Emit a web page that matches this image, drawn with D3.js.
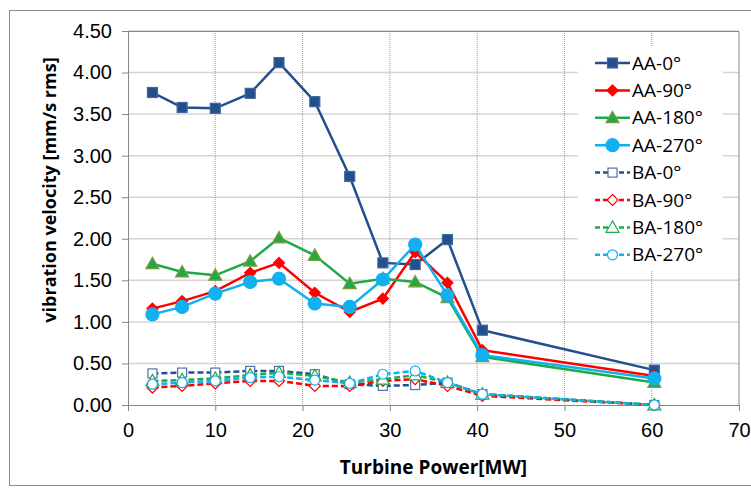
<!DOCTYPE html>
<html lang="en">
<head>
<meta charset="utf-8">
<title>Vibration velocity vs turbine power</title>
<script src="https://cdnjs.cloudflare.com/ajax/libs/d3/7.8.5/d3.min.js"></script>
<style>
    body { margin: 0; background: #fff; }
    svg { font-family: "Open Sans", "Liberation Sans", sans-serif; }
    .axis path, .axis line { stroke: #868686; }
    .axis text { font-size: 20px; fill: #000; }
</style>
</head>
<body>
<script>
// turbine power [MW]
var power = [2.8, 6.2, 10, 14, 17.3, 21.4, 25.4, 29.2, 32.9, 36.6, 40.6, 60.3];

// vibration velocity [mm/s rms]
var aa0   = [3.76, 3.58, 3.57, 3.75, 4.12, 3.65, 2.75, 1.71, 1.69, 1.99, 0.90, 0.42];
var aa90  = [1.16, 1.25, 1.37, 1.59, 1.71, 1.35, 1.12, 1.28, 1.84, 1.47, 0.66, 0.35];
var aa180 = [1.70, 1.60, 1.56, 1.73, 2.01, 1.80, 1.46, 1.52, 1.48, 1.29, 0.58, 0.27];
var aa270 = [1.09, 1.18, 1.34, 1.48, 1.52, 1.22, 1.18, 1.51, 1.93, 1.32, 0.60, 0.32];
var ba0   = [0.38, 0.39, 0.39, 0.41, 0.41, 0.37, 0.25, 0.23, 0.24, 0.27, 0.13, 0.00];
var ba90  = [0.21, 0.23, 0.26, 0.29, 0.29, 0.23, 0.23, 0.29, 0.31, 0.23, 0.11, 0.00];
var ba180 = [0.29, 0.30, 0.32, 0.36, 0.39, 0.35, 0.27, 0.31, 0.36, 0.27, 0.13, 0.00];
var ba270 = [0.25, 0.27, 0.29, 0.33, 0.34, 0.30, 0.26, 0.37, 0.41, 0.27, 0.13, 0.00];

var seriesNames = ["AA-0°", "AA-90°", "AA-180°", "AA-270°", "BA-0°", "BA-90°", "BA-180°", "BA-270°"];
var xTicks = [0, 10, 20, 30, 40, 50, 60, 70];
var yTicks = [0, 0.5, 1, 1.5, 2, 2.5, 3, 3.5, 4, 4.5];

var series = [
    {name: seriesNames[0], values: aa0,   color: "#244f8b", shape: "square",   hollow: false},
    {name: seriesNames[1], values: aa90,  color: "#ff0000", shape: "diamond",  hollow: false},
    {name: seriesNames[2], values: aa180, color: "#1faa4a", shape: "triangle", hollow: false},
    {name: seriesNames[3], values: aa270, color: "#11b0ee", shape: "circle",   hollow: false},
    {name: seriesNames[4], values: ba0,   color: "#244f8b", shape: "square",   hollow: true},
    {name: seriesNames[5], values: ba90,  color: "#ff0000", shape: "diamond",  hollow: true},
    {name: seriesNames[6], values: ba180, color: "#1faa4a", shape: "triangle", hollow: true},
    {name: seriesNames[7], values: ba270, color: "#11b0ee", shape: "circle",   hollow: true}
];

var width = 751, height = 491;
var margin = {top: 31, right: 12, bottom: 86, left: 128};
var w = width - margin.left - margin.right;
var h = height - margin.top - margin.bottom;

var svg = d3.select("body").append("svg")
    .attr("width", width).attr("height", height);

// outer frame
svg.append("rect")
    .attr("x", 9.5).attr("y", 10.5)
    .attr("width", 760).attr("height", 475)
    .style("fill", "none").style("stroke", "#8c8c8c");

var g = svg.append("g").attr("transform", "translate(" + margin.left + "," + margin.top + ")");

var x = d3.scaleLinear().domain([0, 70]).range([0, w]);
var y = d3.scaleLinear().domain([0, 4.5]).range([h, 0]);

// horizontal gridlines
g.selectAll(".hgrid").data(yTicks.slice(1)).enter().append("line")
    .attr("x1", 0).attr("x2", w)
    .attr("y1", function(d) { return y(d); }).attr("y2", function(d) { return y(d); })
    .style("stroke", "#d4d4d4").style("stroke-width", 1.5);

// vertical gridlines (dotted)
g.selectAll(".vgrid").data(xTicks.slice(1, -1)).enter().append("line")
    .attr("x1", function(d) { return x(d); }).attr("x2", function(d) { return x(d); })
    .attr("y1", 0).attr("y2", h)
    .style("stroke", "#9a9a9a").style("stroke-width", 1)
    .style("stroke-dasharray", "1,1");

// plot border top + right
g.append("path")
    .attr("d", "M0,0.5H" + w + "V" + h)
    .style("fill", "none").style("stroke", "#868686");

var xAxis = g.append("g").attr("class", "axis")
    .attr("transform", "translate(0," + h + ")")
    .call(d3.axisBottom(x).tickValues(xTicks).tickSize(6).tickPadding(12).tickFormat(d3.format("d")));

var yAxis = g.append("g").attr("class", "axis")
    .call(d3.axisLeft(y).tickValues(yTicks).tickSize(6).tickPadding(10).tickFormat(d3.format(".2f")));

svg.selectAll(".axis .domain").style("stroke", "#868686");

// axis titles
svg.append("text")
    .attr("x", margin.left + w / 2).attr("y", 474)
    .attr("text-anchor", "middle")
    .style("font-size", "19px").style("font-weight", "bold")
    .text("Turbine Power[MW]");

svg.append("text")
    .attr("transform", "translate(56,190) rotate(-90)")
    .attr("text-anchor", "middle")
    .style("font-size", "18px").style("font-weight", "bold")
    .text("vibration velocity [mm/s rms]");

function drawMarker(sel, s, cx, cy) {
    var fill = s.hollow ? "#fff" : s.color;
    var stroke = s.color;
    if (s.shape === "square") {
        var a = s.hollow ? 9 : 10;
        sel.append("rect").attr("x", cx - a / 2).attr("y", cy - a / 2)
            .attr("width", a).attr("height", a)
            .style("fill", fill).style("stroke", s.hollow ? "#4f72a6" : "#3c6aa3").style("stroke-width", 1.2);
    } else if (s.shape === "diamond") {
        var r = 5.5;
        sel.append("path")
            .attr("d", "M" + cx + "," + (cy - r) + "L" + (cx + r) + "," + cy + "L" + cx + "," + (cy + r) + "L" + (cx - r) + "," + cy + "Z")
            .style("fill", fill).style("stroke", stroke).style("stroke-width", 1.2);
    } else if (s.shape === "triangle") {
        var t = 6.5;
        sel.append("path")
            .attr("d", "M" + cx + "," + (cy - t) + "L" + (cx + t) + "," + (cy + t * 0.75) + "L" + (cx - t) + "," + (cy + t * 0.75) + "Z")
            .style("fill", fill).style("stroke", s.hollow ? s.color : "#7f9a3c").style("stroke-width", 1.2);
    } else {
        sel.append("circle").attr("cx", cx).attr("cy", cy).attr("r", s.hollow ? 5 : 6.5)
            .style("fill", fill).style("stroke", stroke).style("stroke-width", 1.2);
    }
}

var line = d3.line()
    .x(function(d, i) { return x(power[i]); })
    .y(function(d) { return y(d); });

// draw BA first (underneath), then AA
var order = [4, 5, 6, 7, 0, 1, 2, 3];
order.forEach(function(k) {
    var s = series[k];
    g.append("path").datum(s.values)
        .attr("d", line)
        .style("fill", "none").style("stroke", s.color)
        .style("stroke-width", 2.5)
        .style("stroke-dasharray", s.hollow ? "6,3" : null);
    var mg = g.append("g");
    s.values.forEach(function(v, i) {
        drawMarker(mg, s, x(power[i]), y(v));
    });
});

// legend
var lg = svg.append("g").attr("transform", "translate(578,47)");
lg.append("rect").attr("width", 145).attr("height", 223).style("fill", "#fff");
series.forEach(function(s, i) {
    var ly = 16 + i * 27.4;
    lg.append("line").attr("x1", 17).attr("x2", 52).attr("y1", ly).attr("y2", ly)
        .style("stroke", s.color).style("stroke-width", 2.5)
        .style("stroke-dasharray", s.hollow ? "5,3" : null);
    drawMarker(lg, s, 34.5, ly);
    lg.append("text").attr("x", 54).attr("y", ly).attr("dy", "0.35em")
        .style("font-size", "19px").text(s.name);
});
</script>
</body>
</html>
